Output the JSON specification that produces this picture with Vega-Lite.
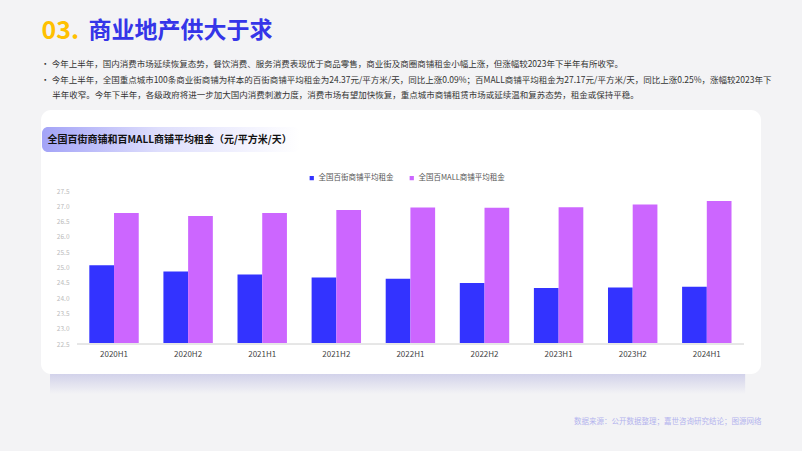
{
  "$schema": "https://vega.github.io/schema/vega-lite/v6.json",
  "width": 720,
  "height": 264,
  "autosize": {"type": "none"},
  "padding": {"left": 41, "top": 110, "right": 41, "bottom": 77},
  "background": "#f3f3f5",
  "config": {
    "font": "Noto Sans CJK SC",
    "view": {"fill": "#ffffff", "stroke": null, "cornerRadius": 10},
    "axis": {"labelOverlap": false}
  },
  "title": {
    "text": [
      "•\u2005今年上半年，国内消费市场延续恢复态势，餐饮消费、服务消费表现优于商品零售，商业街及商圈商铺租金小幅上涨，但涨幅较2023年下半年有所收窄。",
      "•\u2005今年上半年，全国重点城市100条商业街商铺为样本的百街商铺平均租金为24.37元/平方米/天，同比上涨0.09%；百MALL商铺平均租金为27.17元/平方米/天，同比上涨0.25%，涨幅较2023年下",
      "\u200b\u3000\u2004半年收窄。今年下半年，各级政府将进一步加大国内消费刺激力度，消费市场有望加快恢复，重点城市商铺租赁市场或延续温和复苏态势，租金或保持平稳。"
    ],
    "anchor": "start",
    "frame": "group",
    "offset": -81.3,
    "color": "#333333",
    "fontSize": 8.5,
    "fontWeight": "normal",
    "lineHeight": 15.5
  },
  "data": {
    "values": [
      {"period": "2020H1", "series": "全国百街商铺平均租金", "rent": 25.07},
      {"period": "2020H1", "series": "全国百MALL商铺平均租金", "rent": 26.78},
      {"period": "2020H2", "series": "全国百街商铺平均租金", "rent": 24.87},
      {"period": "2020H2", "series": "全国百MALL商铺平均租金", "rent": 26.68},
      {"period": "2021H1", "series": "全国百街商铺平均租金", "rent": 24.77},
      {"period": "2021H1", "series": "全国百MALL商铺平均租金", "rent": 26.78},
      {"period": "2021H2", "series": "全国百街商铺平均租金", "rent": 24.67},
      {"period": "2021H2", "series": "全国百MALL商铺平均租金", "rent": 26.88},
      {"period": "2022H1", "series": "全国百街商铺平均租金", "rent": 24.63},
      {"period": "2022H1", "series": "全国百MALL商铺平均租金", "rent": 26.96},
      {"period": "2022H2", "series": "全国百街商铺平均租金", "rent": 24.49},
      {"period": "2022H2", "series": "全国百MALL商铺平均租金", "rent": 26.95},
      {"period": "2023H1", "series": "全国百街商铺平均租金", "rent": 24.33},
      {"period": "2023H1", "series": "全国百MALL商铺平均租金", "rent": 26.97},
      {"period": "2023H2", "series": "全国百街商铺平均租金", "rent": 24.35},
      {"period": "2023H2", "series": "全国百MALL商铺平均租金", "rent": 27.06},
      {"period": "2024H1", "series": "全国百街商铺平均租金", "rent": 24.37},
      {"period": "2024H1", "series": "全国百MALL商铺平均租金", "rent": 27.17}
    ]
  },
  "layer": [
    {
      "layer": [
        {
          "mark": {"type": "bar"},
          "encoding": {
            "x": {
              "field": "period",
              "type": "nominal",
              "sort": null,
              "scale": {"paddingInner": 0.333, "paddingOuter": 0.525, "align": 0.621},
              "axis": {
                "orient": "bottom",
                "offset": -30,
                "domain": false,
                "ticks": false,
                "tickSize": 0,
                "labelPadding": 6,
                "labelFontSize": 8,
                "labelColor": "#444444",
                "labelAngle": 0,
                "title": "数据来源：公开数据整理；嘉世咨询研究结论；图源网络",
                "titleX": 720,
                "titleY": 77,
                "titleAlign": "right",
                "titleAnchor": null,
                "titleBaseline": "middle",
                "titleFontSize": 7.5,
                "titleFontWeight": "normal",
                "titleColor": "#b3b3ee"
              }
            },
            "xOffset": {
              "field": "series",
              "type": "nominal",
              "sort": ["全国百街商铺平均租金", "全国百MALL商铺平均租金"]
            },
            "y": {
              "field": "rent",
              "type": "quantitative",
              "scale": {"domain": [21.52, 30.147], "nice": false, "zero": false},
              "axis": {
                "values": [22.5, 23, 23.5, 24, 24.5, 25, 25.5, 26, 26.5, 27, 27.5],
                "format": ".1f",
                "offset": -28,
                "domain": false,
                "ticks": false,
                "tickSize": 0,
                "grid": false,
                "labelOverlap": false,
                "labelSeparation": 0,
                "labelPadding": 0,
                "labelFontSize": 6.5,
                "labelColor": "#bbbbbb",
                "title": null
              }
            },
            "y2": {"datum": 22.5},
            "color": {
              "field": "series",
              "type": "nominal",
              "scale": {
                "domain": ["全国百街商铺平均租金", "全国百MALL商铺平均租金"],
                "range": ["#3333ff", "#cc66ff"]
              },
              "legend": {
                "orient": "none",
                "legendX": 267,
                "legendY": 64,
                "direction": "horizontal",
                "title": null,
                "symbolType": "square",
                "symbolSize": 18,
                "symbolStrokeWidth": 0,
                "labelFontSize": 7.5,
                "labelColor": "#555555",
                "labelOffset": 3,
                "columnPadding": 14
              }
            }
          }
        },
        {
          "mark": {"type": "rule", "color": "#e6e6e6", "strokeWidth": 1},
          "encoding": {
            "y": {
              "datum": 22.5,
              "axis": {
                "values": [22.5, 23, 23.5, 24, 24.5, 25, 25.5, 26, 26.5, 27, 27.5],
                "format": ".1f",
                "offset": -28,
                "domain": false,
                "ticks": false,
                "tickSize": 0,
                "grid": false,
                "labelOverlap": false,
                "labelSeparation": 0,
                "labelPadding": 0,
                "labelFontSize": 6.5,
                "labelColor": "#bbbbbb",
                "title": null
              }
            },
            "x": {"datum": "2020H1", "bandPosition": -0.249},
            "x2": {"datum": "2024H1", "bandPosition": 1.253}
          }
        }
      ]
    },
    {
      "data": {"values": [{"part": "shadow"}]},
      "mark": {
        "type": "rect",
        "fill": {
          "gradient": "linear", "x1": 0, "y1": 0, "x2": 0, "y2": 1,
          "stops": [{"offset": 0, "color": "#d2d2ea"}, {"offset": 1, "color": "#f3f3f5"}]
        }
      },
      "encoding": {
        "x": {"datum": 0.0125, "type": "quantitative", "scale": {"domain": [0, 1], "nice": false, "zero": false}, "axis": null},
        "x2": {"datum": 0.978},
        "y": {
          "datum": 0,
          "type": "quantitative",
          "scale": {"domain": [0, 1], "nice": false, "zero": false},
          "axis": {
            "orient": "left",
            "labels": false,
            "ticks": false,
            "domain": false,
            "grid": false,
            "title": "03.",
            "titleAngle": 0,
            "titleX": 0,
            "titleY": -79.5,
            "titleAlign": "left",
            "titleAnchor": null,
            "titleBaseline": "middle",
            "titleFontSize": 25,
            "titleFontWeight": "bold",
            "titleColor": "#FFC000"
          }
        },
        "y2": {"datum": -0.0758}
      }
    },
    {
      "data": {"values": [{"part": "header"}]},
      "mark": {
        "type": "rect",
        "cornerRadius": 6,
        "fill": {
          "gradient": "linear", "x1": 0, "y1": 0, "x2": 1, "y2": 0,
          "stops": [{"offset": 0, "color": "#a3a3f7"}, {"offset": 0.45, "color": "#dedefc"}, {"offset": 1, "color": "#ffffff"}]
        }
      },
      "encoding": {
        "x": {
          "datum": 0.0014,
          "type": "quantitative",
          "scale": {"domain": [0, 1], "nice": false, "zero": false},
          "axis": {
            "orient": "top",
            "zindex": 2,
            "labels": false,
            "ticks": false,
            "domain": false,
            "grid": false,
            "title": "全国百街商铺和百MALL商铺平均租金（元/平方米/天）",
            "titleX": 6,
            "titleY": 29.5,
            "titleAlign": "left",
            "titleAnchor": null,
            "titleBaseline": "middle",
            "titleFontSize": 10,
            "titleFontWeight": "bold",
            "titleColor": "#111111"
          }
        },
        "x2": {"datum": 0.36},
        "y": {
          "datum": 0.9356,
          "type": "quantitative",
          "scale": {"domain": [0, 1], "nice": false, "zero": false},
          "axis": {
            "orient": "right",
            "labels": false,
            "ticks": false,
            "domain": false,
            "grid": false,
            "title": "商业地产供大于求",
            "titleAngle": 0,
            "titleX": -673,
            "titleY": -79.5,
            "titleAlign": "left",
            "titleAnchor": null,
            "titleBaseline": "middle",
            "titleFontSize": 23,
            "titleFontWeight": "bold",
            "titleColor": "#3535e8"
          }
        },
        "y2": {"datum": 0.8409}
      }
    }
  ],
  "resolve": {"scale": {"x": "independent", "y": "independent"}}
}
